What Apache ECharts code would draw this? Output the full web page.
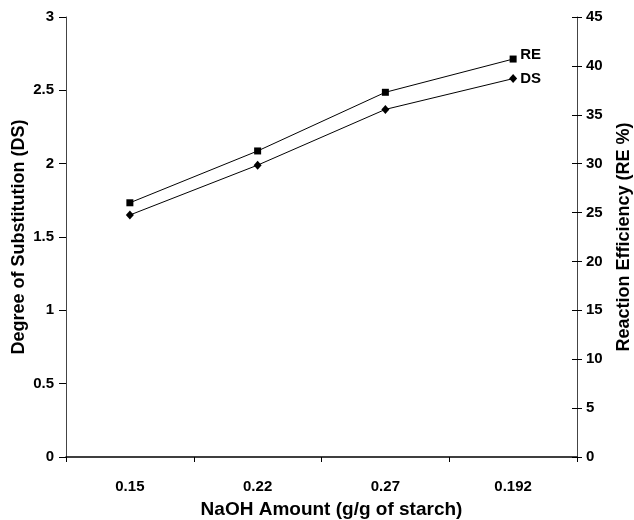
<!DOCTYPE html>
<html><head><meta charset="utf-8">
<script src="https://cdn.jsdelivr.net/npm/echarts@6/dist/echarts.min.js"></script>
<style>html,body{margin:0;padding:0;background:#fff}#c{width:634px;height:520px}</style>
</head><body><div id="c"></div>
<script>
const categories = ['0.15', '0.22', '0.27', '0.192'];
const dsValues = [1.65, 1.99, 2.37, 2.58];
const reValues = [26.0, 31.3, 37.3, 40.7];
const dsTicks = [0, 0.5, 1, 1.5, 2, 2.5, 3];
const reTicks = [0, 5, 10, 15, 20, 25, 30, 35, 40, 45];

const font = '"Liberation Sans", Arial, sans-serif';
const chart = echarts.init(document.getElementById('c'));
const lbl = {color: '#000', fontFamily: font, fontWeight: 'bold', fontSize: 15};
const nm = {color: '#000', fontFamily: font, fontWeight: 'bold', fontSize: 18};
chart.setOption({
  animation: false,
  backgroundColor: '#fff',
  grid: {left: 66, right: 57, top: 17, bottom: 63, containLabel: false, outerBoundsMode: 'none'},
  xAxis: {
    type: 'category', data: categories, boundaryGap: true,
    name: 'NaOH Amount (g/g of starch)', nameLocation: 'middle', nameGap: 43,
    nameTextStyle: Object.assign({fontSize: 19, padding: [0, 0, 0, 20]}, {color: '#000', fontFamily: font, fontWeight: 'bold'}),
    axisLine: {lineStyle: {color: '#000', width: 1.5}},
    axisTick: {show: true, length: 5, lineStyle: {color: '#000'}},
    axisLabel: Object.assign({margin: 22}, lbl),
    splitLine: {show: false}
  },
  yAxis: [
    {
      type: 'value', min: 0, max: 3, interval: 0.5, position: 'left',
      name: 'Degree of Substitution (DS)', nameLocation: 'middle', nameGap: 38,
      nameMoveOverlap: false,
      nameTextStyle: nm,
      axisLine: {show: true, lineStyle: {color: '#444'}},
      axisTick: {show: true, length: 7, lineStyle: {color: '#000'}},
      axisLabel: Object.assign({margin: 12, formatter: v => dsTicks.includes(v) ? String(v) : ''}, lbl),
      splitLine: {show: false}
    },
    {
      type: 'value', min: 0, max: 45, interval: 5, position: 'right',
      name: 'Reaction Efficiency (RE %)', nameLocation: 'middle', nameGap: 38,
      nameTextStyle: nm,
      axisLine: {show: true, lineStyle: {color: '#444'}},
      axisTick: {show: true, length: 5, lineStyle: {color: '#000'}},
      axisLabel: Object.assign({margin: 9, formatter: v => reTicks.includes(v) ? String(v) : ''}, lbl),
      splitLine: {show: false}
    },
    {
      type: 'value', min: 0, max: 45, interval: 5, position: 'right',
      axisLine: {show: false},
      axisTick: {show: true, inside: true, length: 5, lineStyle: {color: '#000'}},
      axisLabel: {show: false},
      splitLine: {show: false}
    }
  ],
  series: [
    {
      name: 'RE', type: 'line', yAxisIndex: 1, data: reValues,
      symbol: 'rect', symbolSize: 7,
      lineStyle: {color: '#000', width: 1}, itemStyle: {color: '#000'},
      endLabel: {show: true, formatter: 'RE', color: '#000', fontFamily: font, fontWeight: 'bold', fontSize: 15, distance: 7, offset: [0, -4]}
    },
    {
      name: 'DS', type: 'line', yAxisIndex: 0, data: dsValues,
      symbol: 'diamond', symbolSize: [8, 9],
      lineStyle: {color: '#000', width: 1}, itemStyle: {color: '#000'},
      endLabel: {show: true, formatter: 'DS', color: '#000', fontFamily: font, fontWeight: 'bold', fontSize: 15, distance: 7}
    }
  ]
});
</script></body></html>
